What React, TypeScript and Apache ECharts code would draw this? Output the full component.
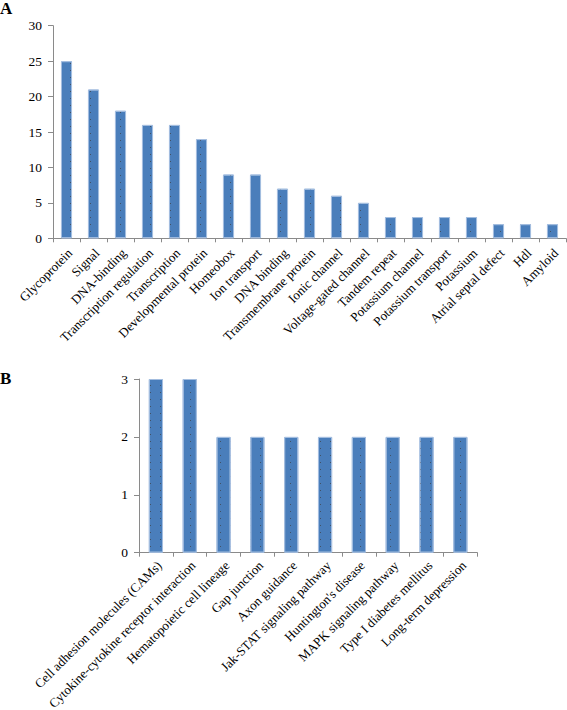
import React, { useEffect, useRef } from "react";
import * as echarts from "echarts";

const catsA = [
  "Glycoprotein", "Signal", "DNA-binding", "Transcription regulation", "Transcription",
  "Developmental protein", "Homeobox", "Ion transport", "DNA binding", "Transmembrane protein",
  "Ionic channel", "Voltage-gated channel", "Tandem repeat", "Potassium channel",
  "Potassium transport", "Potassium", "Atrial septal defect", "Hdl", "Amyloid",
];
const valsA = [25, 21, 18, 16, 16, 14, 9, 9, 7, 7, 6, 5, 3, 3, 3, 3, 2, 2, 2];

const catsB = [
  "Cell adhesion molecules (CAMs)", "Cytokine-cytokine receptor interaction",
  "Hematopoietic cell lineage", "Gap junction", "Axon guidance",
  "Jak-STAT signaling pathway", "Huntington's disease", "MAPK signaling pathway",
  "Type I diabetes mellitus", "Long-term depression",
];
const valsB = [3, 3, 2, 2, 2, 2, 2, 2, 2, 2];

const FONT = "'Liberation Serif', 'Times New Roman', serif";
const AXIS_COLOR = "#8a8a8a";

export default function App() {
  const ref = useRef<HTMLDivElement>(null);
  useEffect(() => {
    if (!ref.current) return;
    const chart = echarts.init(ref.current, undefined, { renderer: "svg" });
    const barStyle = {
      color: "#4a7ebb",
      borderColor: "#a3bddf",
      borderWidth: 1,
      decal: {
        symbol: "rect",
        symbolSize: 1,
        color: "rgba(60,45,35,0.55)",
        dashArrayX: [1, 9],
        dashArrayY: [1, 6],
        rotation: 0,
      },
    };
    const xAxisCommon = (idx: number, data: string[], margin: number) => ({
      type: "category" as const,
      gridIndex: idx,
      data,
      axisLine: { lineStyle: { color: AXIS_COLOR, width: 1 } },
      axisTick: { show: true, length: 4, lineStyle: { color: AXIS_COLOR } },
      axisLabel: {
        rotate: 45,
        interval: 0,
        margin,
        align: "right",
        verticalAlign: "top",
        lineHeight: 10,
        color: "#000",
        fontFamily: FONT,
        fontSize: 13,
      },
    });
    const yAxisCommon = (idx: number, max: number, interval: number) => ({
      type: "value" as const,
      gridIndex: idx,
      min: 0,
      max,
      interval,
      splitLine: { show: false },
      axisLine: { show: true, lineStyle: { color: AXIS_COLOR, width: 1 } },
      axisTick: { show: true, length: 5, lineStyle: { color: AXIS_COLOR } },
      axisLabel: { color: "#000", fontFamily: FONT, fontSize: 13.5, margin: 11 },
    });
    chart.setOption({
      animation: false,
      backgroundColor: "#fff",
      grid: [
        { left: 53, top: 25.7, width: 513, height: 212.6, outerBoundsMode: "none", containLabel: false },
        { left: 139, top: 379, width: 338.3, height: 173.7, outerBoundsMode: "none", containLabel: false },
      ],
      xAxis: [xAxisCommon(0, catsA, 9), xAxisCommon(1, catsB, 7)],
      yAxis: [yAxisCommon(0, 30, 5), yAxisCommon(1, 3, 1)],
      series: [
        {
          type: "bar",
          xAxisIndex: 0,
          yAxisIndex: 0,
          data: valsA,
          barWidth: "41%",
          itemStyle: barStyle,
        },
        {
          type: "bar",
          xAxisIndex: 1,
          yAxisIndex: 1,
          data: valsB,
          barWidth: "42%",
          itemStyle: barStyle,
        },
      ],
      graphic: [
        {
          type: "text",
          left: 0,
          top: 0,
          style: { text: "A", font: `bold 17px ${FONT}`, fill: "#000" },
        },
        {
          type: "text",
          left: 0,
          top: 370,
          style: { text: "B", font: `bold 17px ${FONT}`, fill: "#000" },
        },
      ],
    });
    return () => chart.dispose();
  }, []);
  return (
    <div
      ref={ref}
      style={{ position: "absolute", left: 0, top: 0, width: 567, height: 710 }}
    />
  );
}
